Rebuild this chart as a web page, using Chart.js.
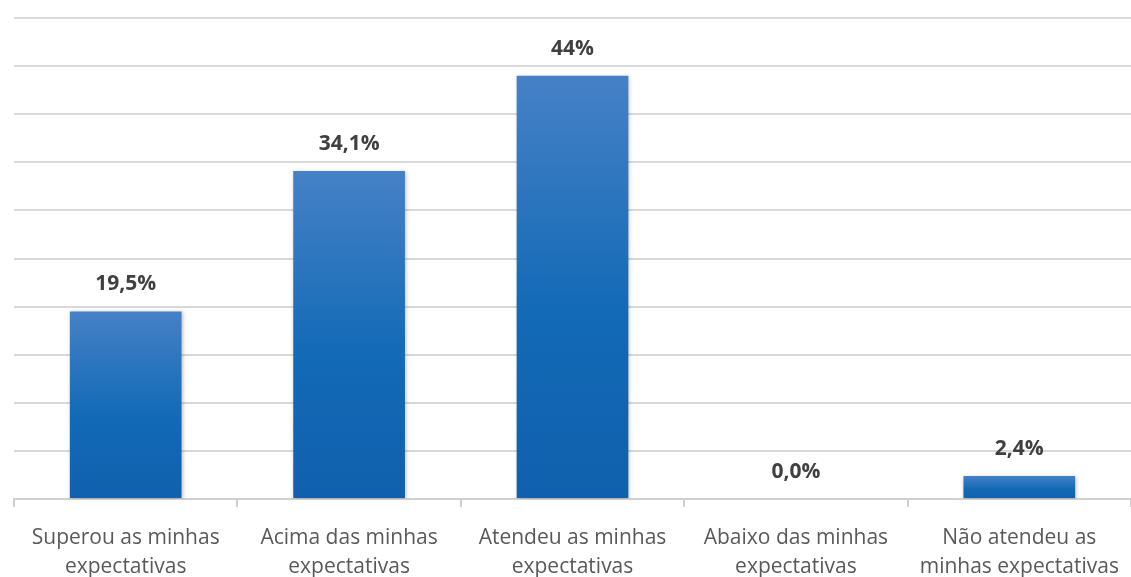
<!DOCTYPE html>
<html>
<head>
<meta charset="utf-8">
<script src="https://cdn.jsdelivr.net/npm/chart.js@4"></script>
<style>
  html, body { margin: 0; padding: 0; background: #fff; }
  #wrap { width: 1131px; height: 577px; }
</style>
</head>
<body>
<div id="wrap"><canvas id="chart"></canvas></div>
<script>
// categorias e valores
const categorias = [
  ['Superou as minhas', 'expectativas'],
  ['Acima das minhas', 'expectativas'],
  ['Atendeu as minhas', 'expectativas'],
  ['Abaixo das minhas', 'expectativas'],
  ['Não atendeu as', 'minhas expectativas']
];
const valores = [19.5, 34.1, 44, 0, 2.4];
const rotulos = ['19,5%', '34,1%', '44%', '0,0%', '2,4%'];

// gradiente vertical em cada barra (claro em cima, escuro embaixo)
function corBarra(context) {
  const chart = context.chart;
  const area = chart.chartArea;
  if (!area) return '#1565b0';
  const y = chart.scales.y;
  const topo = y.getPixelForValue(valores[context.dataIndex]);
  const base = y.getPixelForValue(0);
  if (base - topo < 1) return '#1565b0';
  const g = chart.ctx.createLinearGradient(0, topo, 0, base);
  g.addColorStop(0, '#4681c6');
  g.addColorStop(0.55, '#136ab6');
  g.addColorStop(1, '#1060ad');
  return g;
}

// rótulos em cima das barras
const rotulosPlugin = {
  id: 'rotulos',
  afterDatasetsDraw(chart) {
    const ctx = chart.ctx;
    const meta = chart.getDatasetMeta(0);
    ctx.save();
    ctx.font = 'bold 21px "Open Sans", sans-serif';
    ctx.fillStyle = '#404040';
    ctx.textAlign = 'center';
    ctx.textBaseline = 'middle';
    meta.data.forEach((bar, i) => {
      ctx.fillText(rotulos[i], bar.x, bar.y - 27);
    });
    ctx.restore();
  }
};

// sombra leve das barras
const sombraPlugin = {
  id: 'sombra',
  beforeDatasetDraw(chart) {
    const ctx = chart.ctx;
    ctx.save();
    ctx.shadowColor = 'rgba(0,0,0,0.25)';
    ctx.shadowBlur = 4;
    ctx.shadowOffsetX = 1;
    ctx.shadowOffsetY = 1;
  },
  afterDatasetDraw(chart) {
    chart.ctx.restore();
  }
};

new Chart(document.getElementById('chart'), {
  type: 'bar',
  data: {
    labels: categorias,
    datasets: [{
      data: valores,
      backgroundColor: corBarra,
      borderWidth: 0,
      categoryPercentage: 1,
      barPercentage: 0.5
    }]
  },
  options: {
    responsive: true,
    maintainAspectRatio: false,
    animation: false,
    layout: { padding: { left: 14, right: 0, top: 18, bottom: 0 } },
    plugins: {
      legend: { display: false },
      tooltip: { enabled: false }
    },
    scales: {
      x: {
        afterFit(scale) {
          scale.height = 78;
          scale.paddingLeft = 0;
          scale.paddingRight = 0;
        },
        grid: {
          display: true,
          drawOnChartArea: false,
          drawTicks: true,
          tickLength: 8,
          color: '#d0d0d0',
          lineWidth: 2,
          offset: true
        },
        border: { display: true, color: '#d0d0d0', width: 2 },
        ticks: {
          color: '#595959',
          font: { family: '"Open Sans", sans-serif', size: 21, lineHeight: 1.38 },
          padding: 17,
          maxRotation: 0,
          autoSkip: false
        }
      },
      y: {
        min: 0,
        max: 50,
        afterFit(scale) { scale.width = 0; },
        ticks: { display: false, stepSize: 5 },
        grid: { color: '#d9d9d9', lineWidth: 2, drawTicks: false },
        border: { display: false }
      }
    }
  },
  plugins: [sombraPlugin, rotulosPlugin]
});
</script>
</body>
</html>
